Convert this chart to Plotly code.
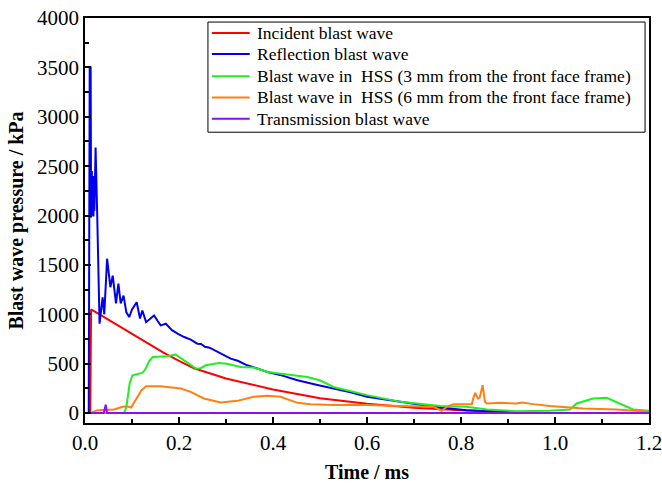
import plotly.graph_objects as go

# Incident blast wave
t_inc = [0, 0.011, 0.013, 0.02, 0.06, 0.1, 0.133, 0.166, 0.2, 0.232, 0.3, 0.4, 0.5, 0.6, 0.7, 0.8, 0.9, 1.0, 1.1, 1.2]
p_inc = [0, 0, 1050, 1030, 910, 800, 706, 615, 530, 454, 350, 240, 150, 95, 55, 28, 12, 5, 2, 0]

# Reflection blast wave
t_ref = [0, 0.008, 0.010, 0.012, 0.013, 0.0145, 0.0155, 0.017, 0.018, 0.019, 0.020, 0.0225, 0.026, 0.031,
         0.0375, 0.041, 0.047, 0.054, 0.059, 0.066, 0.071, 0.076, 0.082, 0.088, 0.094, 0.100, 0.110, 0.117,
         0.122, 0.130, 0.140, 0.147, 0.155, 0.161, 0.172, 0.185, 0.197, 0.211, 0.225, 0.239, 0.247, 0.255,
         0.265, 0.275, 0.290, 0.310, 0.325, 0.345, 0.365, 0.388, 0.420, 0.452, 0.490, 0.529, 0.565, 0.600,
         0.635, 0.671, 0.742, 0.812, 0.883, 0.95, 1.05, 1.2]
p_ref = [0, 0, 3500, 3500, 1980, 2450, 2000, 2400, 1990, 2200, 2050, 2690, 2000, 906,
         1173, 1000, 1563, 1275, 1392, 1110, 1311, 1110, 1190, 1020, 972, 1050, 1123, 958,
         1039, 921, 960, 989, 930, 888, 905, 840, 804, 770, 745, 703, 700, 672,
         662, 636, 605, 552, 530, 484, 455, 417, 380, 333, 290, 249, 210, 165,
         140, 114, 64, 30, 13, 5, 3, 2]

# Blast wave in HSS (3 mm)
t_h3 = [0, 0.083, 0.088, 0.095, 0.101, 0.115, 0.122, 0.128, 0.137, 0.144, 0.175, 0.193, 0.211, 0.236,
        0.246, 0.257, 0.285, 0.302, 0.331, 0.359, 0.388, 0.416, 0.473, 0.501, 0.529, 0.6, 0.671, 0.756,
        0.812, 0.855, 0.919, 0.989, 1.032, 1.046, 1.06, 1.081, 1.110, 1.138, 1.166, 1.2]
p_h3 = [0, 0, 60, 300, 383, 395, 407, 440, 530, 568, 575, 592, 535, 451,
        455, 484, 508, 500, 467, 461, 417, 400, 366, 330, 265, 182, 114, 71,
        64, 37, 20, 23, 37, 98, 115, 148, 155, 98, 37, 25]

# Blast wave in HSS (6 mm)
t_h6 = [0, 0.01, 0.027, 0.062, 0.080, 0.089, 0.098, 0.108, 0.120, 0.130, 0.161, 0.204, 0.225, 0.253,
        0.289, 0.324, 0.359, 0.388, 0.416, 0.452, 0.480, 0.529, 0.600, 0.671, 0.742, 0.759, 0.770, 0.784,
        0.823, 0.827, 0.830, 0.836, 0.840, 0.846, 0.851, 0.855, 0.883, 0.919, 0.929, 0.954, 0.989, 1.060,
        1.131, 1.2]
p_h6 = [0, 0, 30, 37, 64, 70, 57, 131, 230, 272, 272, 249, 215, 148,
        108, 124, 165, 175, 165, 104, 91, 81, 81, 71, 64, 23, 64, 91,
        91, 165, 205, 148, 160, 283, 114, 97, 104, 98, 108, 91, 71, 47,
        37, 15]

# Transmission blast wave
t_tr = [0, 0.040, 0.044, 0.047, 1.2]
p_tr = [0, 0, 85, 0, 0]

names = ["Incident blast wave", "Reflection blast wave",
         "Blast wave in  HSS (3 mm from the front face frame)",
         "Blast wave in  HSS (6 mm from the front face frame)",
         "Transmission blast wave"]
colors = ["#FF0000", "#0000EE", "#22EE22", "#FF8010", "#8A10F0"]
series = [(t_inc, p_inc), (t_ref, p_ref), (t_h3, p_h3), (t_h6, p_h6), (t_tr, p_tr)]

x_ticks = [0.0, 0.2, 0.4, 0.6, 0.8, 1.0, 1.2]
y_ticks = [0, 500, 1000, 1500, 2000, 2500, 3000, 3500, 4000]

FONT = "Liberation Serif, Times New Roman, serif"

fig = go.Figure()
for (t, p), n, c in zip(series, names, colors):
    fig.add_trace(go.Scatter(x=t, y=p, mode="lines", name=n, showlegend=False,
                             line=dict(color=c, width=2)))

axis_common = dict(showline=True, linecolor="black", linewidth=1.5, mirror=True,
                   ticks="inside", ticklen=6, tickwidth=1.5, tickcolor="black",
                   showgrid=False, zeroline=False, automargin=False,
                   ticklabeloverflow="allow",
                   tickfont=dict(family=FONT, size=21, color="black"))

fig.update_xaxes(range=[0, 1.2], tickvals=x_ticks, ticktext=[f"{v:.1f}" for v in x_ticks],
                 minor=dict(ticks="inside", ticklen=4, tickwidth=1.5, dtick=0.1, tickcolor="black"),
                 title=dict(text="<b>Time / ms</b>", font=dict(family=FONT, size=20, color="black"),
                            standoff=16),
                 **axis_common)
fig.update_yaxes(range=[-100, 4000], tickvals=y_ticks,
                 minor=dict(ticks="inside", ticklen=4, tickwidth=1.5, dtick=250, tickcolor="black"),
                 title=dict(text="<b>Blast wave pressure / kPa</b>",
                            font=dict(family=FONT, size=20, color="black"), standoff=8),
                 **axis_common)

# Legend drawn as box + line samples + text (paper coordinates)
L_X0, L_X1, L_Y0, L_Y1 = 0.218, 0.993, 0.718, 0.990
row_y = [0.963, 0.911, 0.856, 0.804, 0.751]
sample_x0, sample_x1, text_x = 0.225, 0.292, 0.301

shapes = [dict(type="rect", xref="paper", yref="paper", x0=L_X0, x1=L_X1, y0=L_Y0, y1=L_Y1,
               line=dict(color="black", width=1), fillcolor="white", layer="above")]
annotations = []
for n, c, ry in zip(names, colors, row_y):
    shapes.append(dict(type="line", xref="paper", yref="paper", x0=sample_x0, x1=sample_x1,
                       y0=ry, y1=ry, line=dict(color=c, width=2), layer="above"))
    annotations.append(dict(xref="paper", yref="paper", x=text_x, y=ry, xanchor="left",
                            yanchor="middle", showarrow=False,
                            text=n.replace("  ", "\u00a0 "),
                            font=dict(family=FONT, size=17.5, color="black")))

fig.update_layout(
    width=662, height=483,
    margin=dict(l=85, r=13, t=18, b=60),
    plot_bgcolor="white", paper_bgcolor="white",
    font=dict(family=FONT, color="black"),
    shapes=shapes, annotations=annotations,
    showlegend=False,
)

fig.write_html("out.html")
